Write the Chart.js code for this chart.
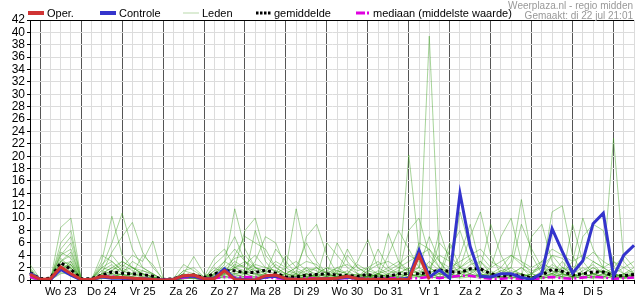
<!DOCTYPE html>
<html><head>
<meta charset="utf-8">
<script src="https://cdn.jsdelivr.net/npm/chart.js@4.4.1/dist/chart.umd.min.js"></script>
<style>
  body { margin: 0; background: #fff; }
</style>
</head>
<body>
<canvas id="neerslag" width="635" height="300"></canvas>
<script>

// dagen op de x-as (label staat op 12 uur), stappen van 6 uur
var dagen = ['Wo 23', 'Do 24', 'Vr 25', 'Za 26', 'Zo 27', 'Ma 28', 'Di 29',
             'Wo 30', 'Do 31', 'Vr 1', 'Za 2', 'Zo 3', 'Ma 4', 'Di 5'];
var uren = ['00', '06', '12', '18'];
var tijden = ['Di 22 18'];
for (var d = 0; d < dagen.length; d++) {
  for (var u = 0; u < uren.length; u++) tijden.push(dagen[d] + ' ' + uren[u]);
}
tijden.push('Wo 6 00', 'Wo 6 06', 'Wo 6 12');

var yTicks = { min: 0, max: 42, stap: 2 };

// operationele run (stopt na Vr 1)
var oper = [0.9, 0.1,0.2,2.1,1.0, 0.1,0.1,0.6,0.4, 0.4,0.3,0.2,0.1, 0,0.1,0.7,0.8,
  0.2,0.2,1.5,0.1, 0,0,0.7,0.8, 0.2,0.1,0.1,0.2, 0.2,0.3,0.6,0.2, 0.1,0.1,0.1,0.1,
  0.1,4.0,0.1];

var controle = [1.1, 0.1,0.1,1.7,0.8, 0,0.1,0.5,0.3, 0.3,0.2,0.2,0.1, 0,0.1,0.6,0.6,
  0.2,0.3,1.8,0.2, 0.1,0,0.5,0.6, 0.2,0.1,0.1,0.1, 0.2,0.2,0.5,0.2, 0.1,0.1,0.1,0.1,
  0.3,4.8,0.5,1.6, 0.3,14.0,5.4,0.6, 0.5,1.0,1.0,0.4, 0.1,1.1,8.3,4.6, 1.1,3.1,9.1,10.8,
  0.6,4.0,5.6];

var gemiddelde = [1.2, 0.2,0.3,2.8,1.7, 0.2,0.2,0.8,1.3, 1.1,1.0,0.9,0.6, 0.1,0.2,0.7,0.8,
  0.4,1.0,1.5,1.5, 1.2,1.2,1.6,1.1, 0.5,0.5,0.8,0.9, 1.0,0.8,0.7,0.6, 0.9,0.5,0.6,1.0,
  1.0,1.0,1.2,1.6, 1.4,1.2,1.8,1.8, 1.0,0.6,0.8,0.8, 0.3,0.8,1.7,1.4, 0.8,1.0,1.3,1.3,
  0.7,0.7,0.9];

var mediaan = [0.5, 0,0,1.8,1.0, 0,0,0.5,0.6, 0.3,0.3,0.2,0.1, 0,0,0.4,0.5,
  0.1,0.3,0.5,0.4, 0.5,0.4,0.4,0.3, 0.2,0.2,0.3,0.3, 0.3,0.3,0.3,0.2, 0.2,0.2,0.3,0.3,
  0.3,0.3,0.5,0.3, 0.5,0.7,0.7,0.4, 0.2,0.2,0.3,0.2, 0.1,0.3,0.5,0.3, 0.2,0.4,0.5,0.4,
  0.2,0.3,0.4];

// ensembleleden
var leden = [
  [1.2, 0,0.2,3.5,2.0, 0,0,1.5,2.5, 1.0,0.5,0.3,0, 0,0,0.5,0.8, 0.2,0.5,1.5,3.0, 2.0,1.0,0.5,0.8, 0.3,1.0,2.0,0.5, 0.3,0.8,1.5,0.5, 0.2,1.0,2.0,3.0, 1.5,2.0,39.4,3.0, 0.5,2.0,3.5,1.0, 0.5,1.5,2.0,0.8, 0.3,1.0,2.5,1.5, 0.5,1.0,2.0,1.2, 0.5,1.0,1.5],
  [0.8, 0,0,8.5,10.0, 0.2,0,0.5,1.0, 0.8,0.3,0.2,0, 0,0.3,1.0,0.5, 0,0.8,2.5,11.5, 5.0,2.0,1.0,0.5, 0.2,0.5,1.0,0.3, 1.5,1.0,0.5,0.2, 0.5,1.5,0.8,0.5, 20.2,5.0,1.0,0.5, 0.3,1.0,2.0,0.5, 0.2,1.0,3.0,13.0, 4.0,1.0,0.5,2.0, 1.0,0.5,3.0,2.0, 1.0,0.5,0.8],
  [2.5, 0.2,0,6.0,8.0, 0,0,3.0,10.3, 4.0,2.0,1.0,0.5, 0,0,0.3,0.5, 0,0.5,1.0,2.0, 8.0,10.0,4.0,2.0, 1.0,0.5,0.3,1.0, 0.5,2.0,1.0,0.5, 1.0,0.5,0.3,1.0, 2.0,1.0,3.0,1.5, 1.0,4.0,9.0,2.0, 1.0,0.5,1.0,2.0, 0.5,1.0,4.0,2.0, 1.5,1.0,0.5,2.0, 22.9,3.0,1.0],
  [1.5, 0,0.3,5.0,7.0, 0.2,0.3,2.0,6.0, 10.8,5.0,2.0,1.0, 0,0,0.5,1.0, 0.3,1.5,3.0,5.0, 3.0,1.5,0.5,1.0, 2.0,11.5,4.0,2.0, 1.0,0.5,0.3,0.5, 2.0,1.0,0.5,0.3, 1.0,4.0,2.0,1.0, 0.5,11.0,5.0,1.5, 0.5,0.3,1.0,0.5, 1.0,3.0,1.5,0.5, 1.0,2.0,1.0,0.5, 1.0,2.0,1.0],
  [1.0, 0,0,4.0,6.0, 0,0,1.0,4.5, 7.0,9.3,4.5,2.0, 0.2,0,0.2,0.3, 0,0.3,0.8,1.5, 1.0,3.0,7.0,6.0, 2.0,1.0,0.5,0.3, 0.2,0.5,1.0,3.0, 6.5,2.0,1.0,0.5, 1.0,2.0,7.0,3.0, 1.0,0.5,1.0,2.0, 9.0,4.0,1.0,0.5, 0.3,0.5,1.0,3.0, 1.0,0.5,1.0,1.5, 0.5,0.3,0.5],
  [0.5, 0,0,2.5,3.0, 0,0,0.5,1.0, 2.0,4.0,3.0,6.3, 0.3,0,1.0,3.8, 1.0,0.5,0.3,0.5, 1.0,0.5,1.0,5.0, 3.0,1.0,7.0,9.0, 4.0,1.0,0.5,0.3, 0.5,1.0,7.5,3.0, 1.0,0.5,1.0,8.0, 3.0,1.0,0.5,1.0, 2.0,7.0,10.0,3.0, 1.0,0.5,1.0,0.5, 0.3,1.0,0.5,1.0, 0.5,0.3,0.5],
  [2.0, 0,0.5,4.0,5.0, 0,0,4.0,3.0, 1.5,1.0,0.5,0.3, 0,0.2,2.5,1.5, 0.5,3.5,5.0,2.0, 1.0,0.5,0.3,0.5, 1.0,2.0,1.0,0.5, 6.0,4.0,2.0,1.0, 0.5,0.3,1.0,2.0, 1.5,1.0,0.5,1.0, 6.0,2.0,1.0,0.5, 1.0,2.0,1.0,0.5, 7.0,9.0,3.0,1.0, 0.5,1.0,2.0,1.0, 0.5,1.0,2.0],
  [0.3, 0,0,3.0,4.5, 0.3,0,1.0,2.0, 3.0,2.0,1.0,0.5, 0,0,0.3,0.2, 0,2.5,4.0,7.0, 3.0,2.0,1.0,0.5, 0.3,0.5,1.0,2.0, 0.5,1.0,5.0,2.0, 1.0,0.5,0.3,1.0, 8.0,10.0,4.0,2.0, 1.0,0.5,1.0,3.0, 1.0,0.5,0.3,1.0, 0.5,1.0,11.0,12.0, 4.0,1.0,0.5,1.0, 2.0,1.0,0.5],
  [1.0, 0.2,0,2.0,2.5, 0,0,2.5,4.0, 2.0,1.0,4.0,2.5, 0,0,0.5,0.3, 0,0.3,1.0,4.0, 7.0,6.0,5.0,2.0, 1.0,0.5,0.3,1.0, 2.0,1.0,0.5,0.3, 1.0,5.0,2.0,1.0, 0.5,6.0,5.0,2.0, 1.0,0.5,2.0,1.0, 0.5,1.0,2.0,9.0, 5.0,2.0,1.0,0.5, 9.0,3.0,1.0,0.5, 1.0,0.5,1.0],
  [0.8, 0,0,1.5,2.0, 0,0,1.0,0.5, 1.0,3.0,2.0,1.0, 0,0,1.5,2.0, 0.5,1.0,0.5,0.3, 0.5,8.0,3.0,1.0, 4.0,2.0,6.0,3.0, 1.0,6.0,3.0,1.0, 0.5,0.3,0.5,1.0, 2.0,1.0,0.5,0.3, 5.0,8.0,3.0,1.0, 0.5,0.3,1.0,2.0, 1.0,0.5,0.3,1.0, 3.0,10.0,5.0,2.0, 1.0,0.5,1.0],
  [1.5, 0,0,3.0,4.0, 0,0.3,1.5,1.0, 0.5,0.3,0.5,0.3, 0,0,0.3,0.5, 0.3,2.0,1.0,2.0, 3.0,1.0,0.5,1.0, 0.5,0.3,1.0,0.5, 0.3,0.5,4.0,2.0, 1.0,0.5,4.0,8.0, 5.0,2.0,1.0,6.0, 4.0,2.0,7.0,11.0, 4.0,1.0,0.5,0.3, 0.5,1.0,2.0,1.0, 0.5,7.0,9.0,8.0, 3.0,1.0,0.5],
  [0.5, 0,0,1.0,1.5, 0,0,0.5,0.3, 0.5,0.3,0.2,0, 0,0,0.2,0.3, 0,0.5,1.5,1.0, 0.5,0.3,0.5,1.0, 0.5,0.5,0.3,0.5, 0.3,0.5,0.3,0.2, 0.5,1.0,0.5,0.3, 0.5,1.0,2.0,1.0, 0.5,0.3,0.5,0.3, 0.5,1.0,0.5,0.3, 0.5,0.3,0.5,0.3, 0.5,0.3,0.5,0.3, 0.5,0.3,0.5],
  [0.3, 0,0,2.0,1.5, 0,0,0.3,0.5, 1.0,0.5,0.3,0.2, 0,0,0.5,0.8, 0.3,0.3,0.5,1.0, 1.5,0.8,0.3,0.5, 0.3,0.5,2.0,1.5, 0.5,0.3,0.5,1.0, 0.5,0.3,0.5,0.3, 1.0,1.5,1.0,0.5, 0.8,1.5,1.0,0.5, 0.3,0.8,1.5,1.0, 0.5,0.3,0.5,1.0, 0.8,0.5,0.3,0.5, 1.0,0.5,0.3],
  [1.8, 0,0.2,1.5,3.0, 0,0,0.8,1.5, 0.8,0.5,0.3,0.1, 0,0,0.8,0.5, 0.2,1.0,2.0,1.5, 1.0,2.0,1.5,1.0, 0.5,1.5,0.8,0.5, 1.0,0.5,0.8,0.5, 1.5,1.0,0.5,0.8, 1.2,0.5,1.0,2.0, 0.5,1.0,2.5,3.0, 1.5,0.5,1.0,0.5, 0.3,1.5,1.0,2.0, 1.0,0.5,1.0,1.5, 0.8,0.5,1.0],
  [0.5, 0,0,2.5,2.0, 0,0,0.3,1.5, 2.5,1.5,1.0,0.5, 0,0,0.3,1.0, 0.5,0.5,1.0,2.5, 2.0,1.5,1.0,2.5, 1.5,1.0,0.5,0.3, 0.5,1.5,1.0,0.8, 0.5,0.3,0.5,0.3, 0.5,0.8,0.5,1.0, 2.0,1.5,0.5,0.8, 1.0,0.5,0.3,0.5, 1.0,2.0,1.5,0.8, 0.5,0.3,1.0,0.5, 0.3,0.8,0.5],
  [1.0, 0,0,1.8,2.5, 0,0,1.0,2.0, 1.5,0.8,0.5,0.3, 0,0.3,0.5,0.3, 0,0.5,0.8,1.0, 1.2,1.0,0.8,0.5, 1.0,0.8,0.5,1.0, 0.8,0.5,0.3,0.5, 0.8,0.5,1.0,1.5, 0.8,0.5,1.5,1.0, 0.5,1.0,1.5,2.0, 1.0,0.5,0.8,1.0, 0.5,0.8,1.0,1.5, 0.8,0.5,0.8,1.5, 1.0,0.5,0.8],
  [0.2, 0,0,1.2,0.8, 0,0,0.5,0.8, 0.5,1.0,0.8,0.5, 0,0,0.2,0.5, 0,0.3,0.5,0.8, 0.5,0.3,0.5,0.8, 0.5,0.3,0.5,0.8, 0.5,0.3,0.2,0.3, 0.5,0.8,0.3,0.5, 0.3,0.5,0.8,0.5, 0.3,0.5,0.8,0.5, 0.3,0.5,0.3,0.5, 0.2,0.3,0.8,0.5, 0.3,0.5,0.3,0.8, 0.5,0.3,0.5],
  [1.3, 0,0,2.2,1.8, 0,0,0.2,0.5, 0.3,0.5,1.5,0.8, 0,0,0.5,1.0, 0.3,0.8,1.2,2.0, 1.5,2.5,2.0,1.5, 0.5,0.8,1.5,2.0, 1.0,0.5,0.8,0.5, 0.3,1.0,1.5,1.0, 0.5,1.0,0.5,0.3, 1.0,2.0,1.5,0.5, 0.8,1.5,1.0,0.5, 1.0,2.5,2.0,1.0, 0.5,1.5,2.5,1.0, 0.5,0.8,1.2],
  [0.6, 0,0,3.0,2.5, 0,0,2.0,3.0, 1.5,2.0,1.0,0.5, 0,0,1.0,0.5, 0,1.5,2.0,3.5, 4.0,2.0,1.5,3.0, 2.0,3.0,1.5,1.0, 2.0,1.5,1.0,2.5, 1.5,2.5,3.0,2.0, 3.0,4.0,5.0,3.0, 2.0,3.0,4.0,5.0, 3.0,2.0,4.0,3.0, 2.0,3.0,5.0,4.0, 3.0,4.0,3.0,2.0, 3.0,2.0,3.0],
  [1.0, 0,0,4.5,3.5, 0,0,2.0,1.5, 3.0,2.0,1.5,1.0, 0,0,1.5,1.0, 0.3,1.0,3.0,2.0, 2.5,4.0,2.0,1.5, 1.0,2.0,3.0,2.5, 1.0,2.0,2.5,1.5, 2.0,3.0,1.5,2.5, 4.0,3.0,2.0,4.0, 3.0,2.0,3.0,4.0, 2.0,3.0,4.0,2.5, 1.5,2.0,4.0,3.5, 2.0,3.0,4.5,3.0, 2.0,4.0,2.0]
];

var font = '"Liberation Sans", Arial, sans-serif';

var legenda = [
  { tekst: 'Oper.', x1: 28, x2: 44, kleur: '#d03434', dikte: 4, streep: [] },
  { tekst: 'Controle', x1: 100, x2: 116, kleur: '#3434cc', dikte: 4, streep: [] },
  { tekst: 'Leden', x1: 183, x2: 199, kleur: '#b9d9ab', dikte: 1, streep: [] },
  { tekst: 'gemiddelde', x1: 256, x2: 271, kleur: '#000', dikte: 3, streep: [2.5, 1.5] },
  { tekst: 'mediaan (middelste waarde)', x1: 356, x2: 370, kleur: '#e000e0', dikte: 3, streep: [9, 2, 2, 2] }
];

var kopPlugin = {
  id: 'kop',
  afterDraw: function(chart) {
    var c = chart.ctx, a = chart.chartArea;
    c.save();
    c.strokeStyle = '#000';
    c.lineWidth = 1;
    c.beginPath();
    c.moveTo(a.left, a.top + 0.5);
    c.lineTo(a.right, a.top + 0.5);
    c.stroke();

    c.font = '11px ' + font;
    c.textBaseline = 'middle';
    legenda.forEach(function(l) {
      c.strokeStyle = l.kleur;
      c.lineWidth = l.dikte;
      c.setLineDash(l.streep);
      c.beginPath();
      c.moveTo(l.x1, 13);
      c.lineTo(l.x2, 13);
      c.stroke();
      c.setLineDash([]);
      c.fillStyle = '#000';
      c.fillText(l.tekst, l.x2 + 3, 13.5);
    });

    c.font = '10px ' + font;
    c.fillStyle = '#999';
    c.textAlign = 'right';
    c.textBaseline = 'alphabetic';
    c.fillText('Weerplaza.nl - regio midden', 633, 8.5);
    c.fillText('Gemaakt: di 22 jul 21:01', 633, 18.5);
    c.restore();
  }
};

var sets = [
  { label: 'Oper.', data: oper, borderColor: '#d03434', borderWidth: 3, order: 0 },
  { label: 'Controle', data: controle, borderColor: '#3434cc', borderWidth: 3, order: 1 },
  { label: 'gemiddelde', data: gemiddelde, borderColor: '#000', borderWidth: 3,
    borderDash: [3, 3], order: 2 },
  { label: 'mediaan (middelste waarde)', data: mediaan, borderColor: '#e000e0',
    borderWidth: 2.5, borderDash: [8, 3, 2, 3], order: 3 }
];
leden.forEach(function(lid, i) {
  sets.push({ label: 'Leden', data: lid, borderColor: 'rgba(60,160,30,0.45)',
    borderWidth: 1, order: 10 + i });
});
sets.forEach(function(s) {
  s.pointRadius = 0;
  s.tension = 0;
  s.fill = false;
});

new Chart(document.getElementById('neerslag'), {
  type: 'line',
  data: { labels: tijden, datasets: sets },
  plugins: [kopPlugin],
  options: {
    responsive: false,
    animation: false,
    devicePixelRatio: 1,
    layout: { padding: { top: 20, left: 0, right: 0, bottom: 0 } },
    plugins: { legend: { display: false }, tooltip: { enabled: false } },
    scales: {
      x: {
        type: 'category',
        offset: false,
        afterFit: function(s) { s.height = 20; },
        border: { color: '#000' },
        grid: {
          color: function(ctx) { return ctx.index % 4 === 1 ? '#555' : '#dcdcdc'; },
          tickColor: '#000',
          tickLength: 4
        },
        ticks: {
          autoSkip: false,
          maxRotation: 0,
          padding: 1,
          color: '#000',
          font: { family: font, size: 11 },
          callback: function(v, i) {
            var k = (i - 3) / 4;
            return (i % 4 === 3 && k < dagen.length) ? dagen[k] : '';
          }
        }
      },
      y: {
        min: yTicks.min,
        max: yTicks.max,
        afterFit: function(s) { s.width = 30; },
        border: { color: '#000' },
        grid: { color: '#dcdcdc', tickColor: '#000', tickLength: 3 },
        ticks: {
          stepSize: yTicks.stap,
          autoSkip: false,
          padding: 2,
          color: '#000',
          font: { family: font, size: 12 }
        }
      }
    }
  }
});
</script>
</body>
</html>
